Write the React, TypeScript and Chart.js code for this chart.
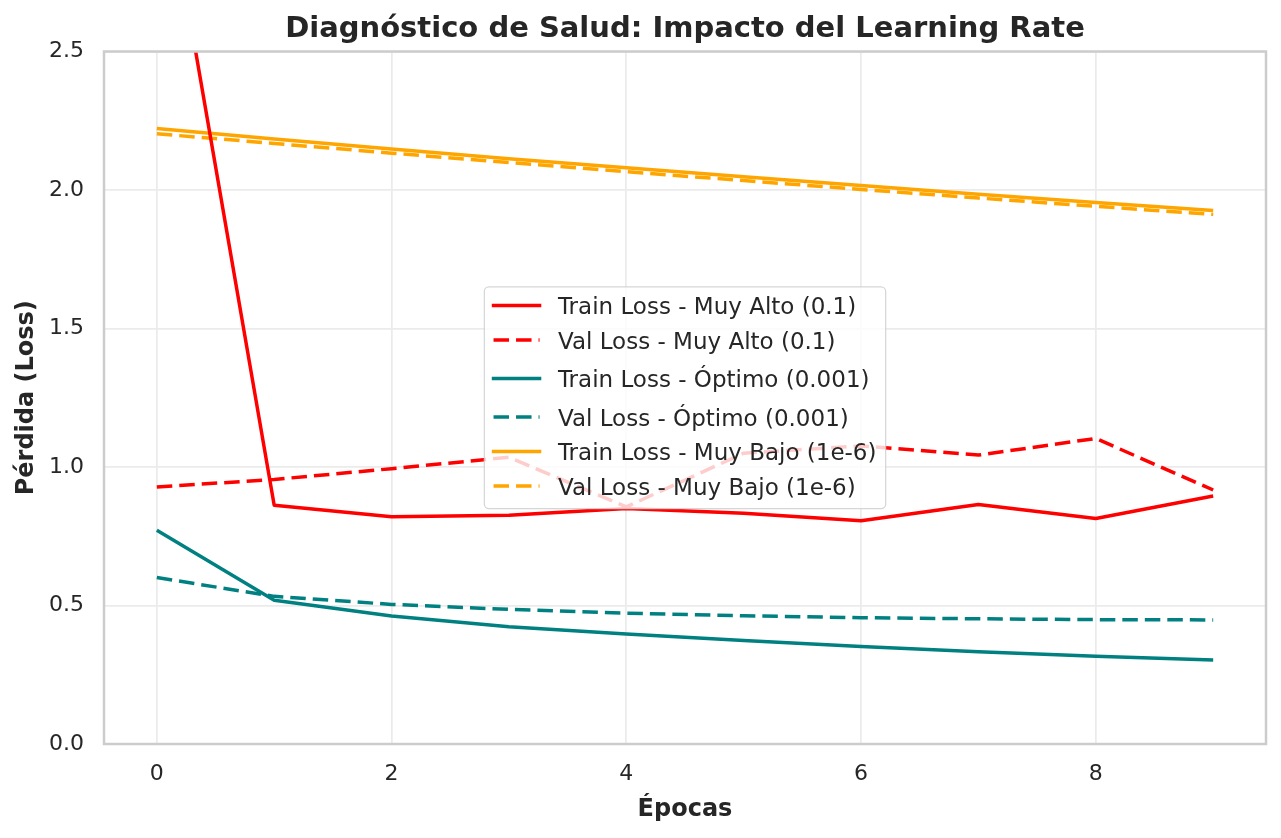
import { useEffect, useRef } from "react";
import { Chart, registerables } from "chart.js";

Chart.register(...registerables);

// Loss curves per epoch for three learning rates
const epochs = [0, 1, 2, 3, 4, 5, 6, 7, 8, 9];
const trainHigh = [3.31, 0.862, 0.82, 0.826, 0.85, 0.833, 0.806, 0.865, 0.814, 0.895];
const valHigh = [0.928, 0.955, 0.994, 1.035, 0.856, 1.05, 1.076, 1.043, 1.103, 0.917];
const trainOpt = [0.772, 0.519, 0.462, 0.423, 0.397, 0.374, 0.352, 0.333, 0.317, 0.303];
const valOpt = [0.601, 0.533, 0.504, 0.486, 0.472, 0.463, 0.456, 0.452, 0.449, 0.448];
const trainLow = [2.222, 2.184, 2.148, 2.113, 2.08, 2.048, 2.016, 1.985, 1.955, 1.926];
const valLow = [2.203, 2.168, 2.133, 2.099, 2.066, 2.034, 2.002, 1.971, 1.941, 1.912];

const seriesLabels = [
  "Train Loss - Muy Alto (0.1)",
  "Val Loss - Muy Alto (0.1)",
  "Train Loss - Óptimo (0.001)",
  "Val Loss - Óptimo (0.001)",
  "Train Loss - Muy Bajo (1e-6)",
  "Val Loss - Muy Bajo (1e-6)",
];

const xTicks = [0, 2, 4, 6, 8];
const yTicks = [0, 0.5, 1.0, 1.5, 2.0, 2.5];

const RED = "#ff0000";
const TEAL = "#008080";
const ORANGE = "#ffa500";
const INK = "#262626";
const FONT = "'DejaVu Sans', 'Liberation Sans', sans-serif";
const DASH = [15.5, 7];
const LINE_W = 3.5;

const toPoints = (ys: number[]) => epochs.map((x, i) => ({ x, y: ys[i] }));

const line = (label: string, ys: number[], color: string, dashed: boolean) => ({
  label,
  data: toPoints(ys),
  borderColor: color,
  backgroundColor: color,
  borderWidth: LINE_W,
  borderDash: dashed ? DASH : [],
  borderJoinStyle: "round" as const,
  pointRadius: 0,
  pointHoverRadius: 0,
  tension: 0,
  fill: false,
});

// Axes frame on all four sides, plus a semi-transparent legend drawn over the lines
const frameAndLegend = {
  id: "frameAndLegend",
  afterDatasetsDraw(chart: any) {
    const { ctx, chartArea: a } = chart;
    ctx.save();
    ctx.strokeStyle = "#cccccc";
    ctx.lineWidth = 2.5;
    ctx.strokeRect(a.left, a.top, a.right - a.left, a.bottom - a.top);
    ctx.restore();
  },
  afterDraw(chart: any) {
    const { ctx, chartArea: a } = chart;
    const fs = 23;
    const pad = 9.2;
    const spacing = 11.5;
    const handle = 46;
    const gap = 18.4;
    ctx.save();
    ctx.font = `${fs}px ${FONT}`;
    const lp = ctx.measureText("lp");
    const rows = chart.data.datasets.map((ds: any) => {
      const m = ctx.measureText(ds.label);
      return {
        ds,
        w: m.width,
        asc: Math.max(m.actualBoundingBoxAscent, lp.actualBoundingBoxAscent),
        desc: Math.max(m.actualBoundingBoxDescent, lp.actualBoundingBoxDescent),
      };
    });
    const textW = Math.max(...rows.map((r: any) => r.w));
    const boxW = pad + handle + gap + textW + pad;
    const boxH =
      pad * 2 +
      rows.reduce((s: number, r: any) => s + r.asc + r.desc, 0) +
      spacing * (rows.length - 1);
    const left = (a.left + a.right) / 2 - boxW / 2;
    const top = (a.top + a.bottom) / 2 - boxH / 2;

    ctx.beginPath();
    ctx.roundRect(left, top, boxW, boxH, 4.6);
    ctx.fillStyle = "rgba(255,255,255,0.8)";
    ctx.fill();
    ctx.strokeStyle = "rgba(204,204,204,0.8)";
    ctx.lineWidth = 1.25;
    ctx.stroke();

    let y = top + pad;
    rows.forEach((r: any) => {
      const base = y + r.asc;
      const hy = base - fs * 0.365;
      const dashed = r.ds.borderDash && r.ds.borderDash.length > 0;
      ctx.beginPath();
      ctx.setLineDash(dashed ? r.ds.borderDash : []);
      ctx.lineCap = dashed ? "butt" : "square";
      ctx.strokeStyle = r.ds.borderColor;
      ctx.lineWidth = r.ds.borderWidth;
      ctx.moveTo(left + pad, hy);
      ctx.lineTo(left + pad + handle, hy);
      ctx.stroke();
      ctx.setLineDash([]);
      ctx.fillStyle = INK;
      ctx.textAlign = "left";
      ctx.textBaseline = "alphabetic";
      ctx.fillText(r.ds.label, left + pad + handle + gap, base);
      y += r.asc + r.desc + spacing;
    });
    ctx.restore();
  },
};

export default function App() {
  const canvasRef = useRef<HTMLCanvasElement | null>(null);

  useEffect(() => {
    document.body.style.margin = "0";
    const canvas = canvasRef.current;
    if (!canvas) return;

    const chart = new Chart(canvas, {
      type: "line",
      data: {
        datasets: [
          line(seriesLabels[0], trainHigh, RED, false),
          line(seriesLabels[1], valHigh, RED, true),
          line(seriesLabels[2], trainOpt, TEAL, false),
          line(seriesLabels[3], valOpt, TEAL, true),
          line(seriesLabels[4], trainLow, ORANGE, false),
          line(seriesLabels[5], valLow, ORANGE, true),
        ],
      },
      options: {
        responsive: false,
        animation: false,
        devicePixelRatio: 1,
        layout: { padding: { left: 0, right: 15, top: 0, bottom: 0 } },
        plugins: {
          legend: { display: false },
          tooltip: { enabled: false },
          title: {
            display: true,
            text: "Diagnóstico de Salud: Impacto del Learning Rate",
            fullSize: false,
            color: INK,
            font: { family: FONT, size: 29, weight: "bold" },
            padding: { top: 11.9, bottom: 4.8 },
          },
        },
        scales: {
          x: {
            type: "linear",
            min: -0.45,
            max: 9.45,
            afterFit: (s: any) => {
              s.height = 94;
            },
            afterBuildTicks: (s: any) => {
              s.ticks = xTicks.map((v) => ({ value: v }));
            },
            grid: { color: "#ebebeb", lineWidth: 1.75, drawTicks: false },
            border: { display: false },
            ticks: {
              color: INK,
              padding: 17.5,
              font: { family: FONT, size: 22 },
              callback: (v: any) => String(v),
            },
            title: {
              display: true,
              text: "Épocas",
              color: INK,
              font: { family: FONT, size: 24, weight: "bold" },
              padding: { top: 0, bottom: 13.6 },
            },
          },
          y: {
            type: "linear",
            min: 0,
            max: 2.5,
            afterFit: (s: any) => {
              s.width = 104;
            },
            afterBuildTicks: (s: any) => {
              s.ticks = yTicks.map((v) => ({ value: v }));
            },
            grid: { color: "#ebebeb", lineWidth: 1.75, drawTicks: false },
            border: { display: false },
            ticks: {
              color: INK,
              padding: 20,
              font: { family: FONT, size: 22 },
              callback: (v: any) => Number(v).toFixed(1),
            },
            title: {
              display: true,
              text: "Pérdida (Loss)",
              color: INK,
              font: { family: FONT, size: 24, weight: "bold" },
              padding: { top: 12.3, bottom: 0 },
            },
          },
        },
      },
      plugins: [frameAndLegend],
    });

    return () => chart.destroy();
  }, []);

  return (
    <div style={{ width: 1281, height: 838 }}>
      <canvas ref={canvasRef} width={1281} height={838} style={{ display: "block" }} />
    </div>
  );
}
